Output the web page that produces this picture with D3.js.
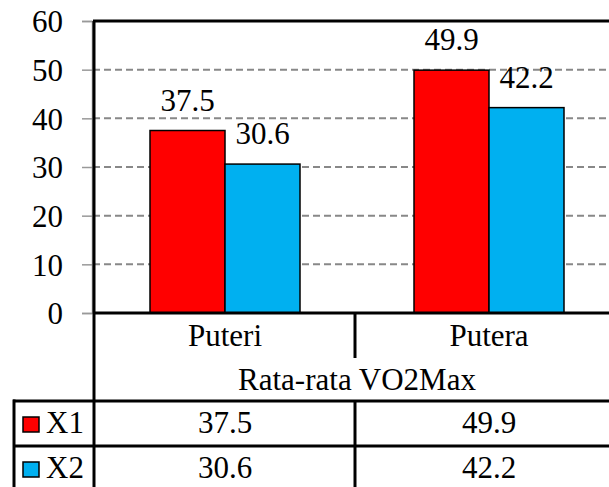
<!DOCTYPE html>
<html>
<head>
<meta charset="utf-8">
<script src="https://cdn.jsdelivr.net/npm/d3@7"></script>
<style>
  body { margin: 0; background: #fff; }
</style>
</head>
<body>
<div id="chart"></div>
<script>
const categories = ["Puteri", "Putera"]
const seriesNames = ["X1", "X2"]
const x1Values = [37.5, 49.9]
const x2Values = [30.6, 42.2]
const yTicks = [0, 10, 20, 30, 40, 50, 60]
const groupTitle = "Rata-rata VO2Max"

const width = 609
const height = 487
const colors = ["#ff0000", "#00b0f0"]
const fs = 31

const svg = d3.select("#chart")
    .append("svg")
    .attr("width", width)
    .attr("height", height)

const plotLeft = 93, plotTop = 21, zeroY = 313
const x = d3.scaleBand().domain(categories).range([plotLeft, 621]).paddingInner(0).paddingOuter(0)
const y = d3.scaleLinear().domain([0, 60]).range([zeroY, plotTop])
const inner = d3.scaleBand().domain(seriesNames).range([0, x.bandwidth()]).paddingInner(0).paddingOuter(0.76)

const series = [x1Values, x2Values]

// gridlines
svg.append("g")
    .selectAll("line")
    .data(yTicks.filter(t => t > 0 && t < 60))
    .enter().append("line")
    .attr("x1", plotLeft).attr("x2", width)
    .attr("y1", d => y(d)).attr("y2", d => y(d))
    .attr("stroke", "#888").attr("stroke-width", 2)
    .attr("stroke-dasharray", "7,4")

// y axis
const yAxis = d3.axisLeft(y).tickValues(yTicks).tickSize(10).tickPadding(19)
const ga = svg.append("g").attr("transform", `translate(${plotLeft - 1},0)`).call(yAxis)
ga.select(".domain").attr("stroke", "#999").attr("stroke-width", 1.5)
ga.selectAll(".tick line").attr("stroke", "#999").attr("stroke-width", 1.5)
ga.selectAll(".tick text").attr("dy", "0.35em")

// bars
seriesNames.forEach((s, si) => {
    const g = svg.append("g")
    g.selectAll("rect")
        .data(categories)
        .enter().append("rect")
        .attr("x", c => x(c) + inner(s))
        .attr("y", (c, i) => y(series[si][i]))
        .attr("width", inner.bandwidth())
        .attr("height", (c, i) => zeroY - y(series[si][i]))
        .attr("fill", colors[si])
        .attr("stroke", "#000").attr("stroke-width", 1.5)
    g.selectAll("text")
        .data(categories)
        .enter().append("text")
        .attr("x", c => x(c) + inner(s) + inner.bandwidth() / 2)
        .attr("y", (c, i) => y(series[si][i]) - 20)
        .attr("text-anchor", "middle")
        .text((c, i) => series[si][i])
})

// frame
const frame = svg.append("g").attr("stroke", "#000").attr("stroke-width", 3)
frame.append("line").attr("x1", plotLeft).attr("x2", width).attr("y1", plotTop).attr("y2", plotTop)
frame.append("line").attr("x1", plotLeft + 1).attr("x2", plotLeft + 1).attr("y1", plotTop).attr("y2", zeroY)

// data table
const rowCat = 358, rowTitle = 401, rowX1 = 446
const tbl = svg.append("g").attr("stroke", "#000").attr("stroke-width", 3)
tbl.append("line").attr("x1", plotLeft).attr("x2", width).attr("y1", zeroY).attr("y2", zeroY)
tbl.append("line").attr("x1", plotLeft + 1).attr("x2", plotLeft + 1).attr("y1", zeroY).attr("y2", height)
tbl.selectAll(".cdiv").data(categories.slice(1)).enter().append("line")
    .attr("x1", c => x(c) - 2).attr("x2", c => x(c) - 2)
    .attr("y1", zeroY).attr("y2", rowCat)
tbl.append("line").attr("x1", 13).attr("x2", width).attr("y1", rowTitle).attr("y2", rowTitle)
tbl.append("line").attr("x1", 13).attr("x2", width).attr("y1", rowX1).attr("y2", rowX1)
tbl.append("line").attr("x1", 14).attr("x2", 14).attr("y1", rowTitle - 1.5).attr("y2", height)
tbl.selectAll(".vdiv").data(categories.slice(1)).enter().append("line")
    .attr("x1", c => x(c) - 2).attr("x2", c => x(c) - 2)
    .attr("y1", rowTitle).attr("y2", height)

svg.append("g").selectAll("text").data(categories).enter().append("text")
    .attr("x", c => x(c) + x.bandwidth() / 2)
    .attr("y", 346)
    .attr("text-anchor", "middle")
    .text(c => c)

svg.append("text")
    .attr("x", (plotLeft + 621) / 2).attr("y", 390)
    .attr("text-anchor", "middle")
    .text(groupTitle)

const baselines = [433, 478]
seriesNames.forEach((s, si) => {
    const base = baselines[si]
    svg.append("rect")
        .attr("x", 23).attr("y", base - 16).attr("width", 16).attr("height", 15)
        .attr("fill", colors[si]).attr("stroke", "#000").attr("stroke-width", 1.5)
    svg.append("text").attr("x", 46).attr("y", base).text(s)
    svg.append("g").selectAll("text").data(categories).enter().append("text")
        .attr("x", c => x(c) + x.bandwidth() / 2)
        .attr("y", base)
        .attr("text-anchor", "middle")
        .text((c, i) => series[si][i])
})

svg.selectAll("text")
    .style("font-family", "'Liberation Serif'")
    .style("font-size", fs + "px")
    .style("fill", "#000")
</script>
</body>
</html>
